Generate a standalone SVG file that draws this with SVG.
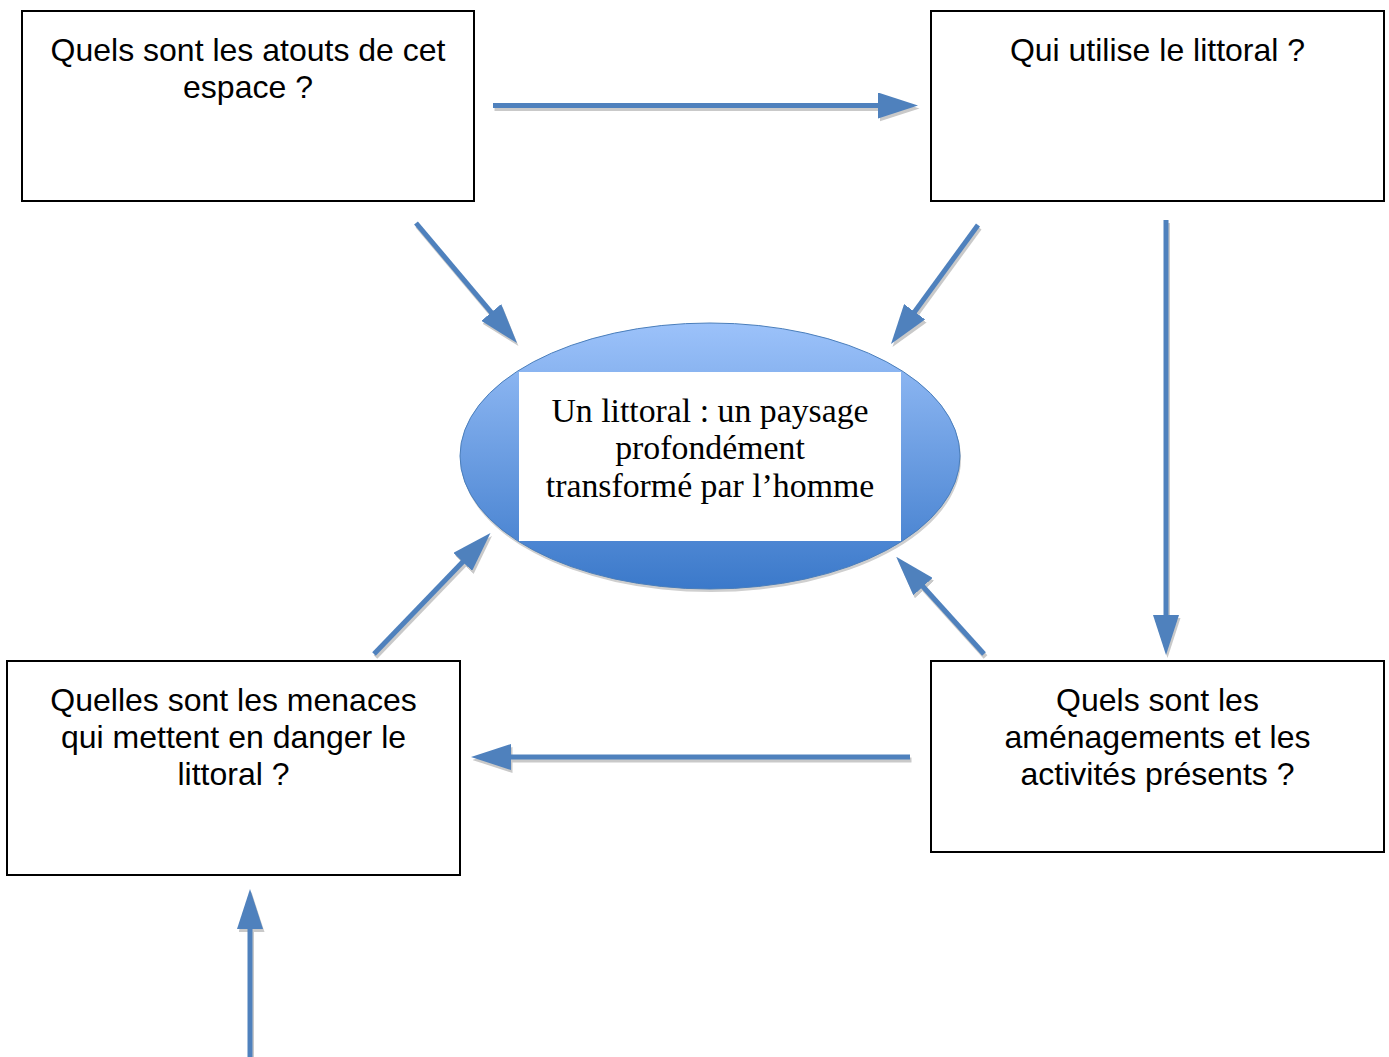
<svg xmlns="http://www.w3.org/2000/svg" width="1389" height="1057" viewBox="0 0 1389 1057">
<defs>
<style>
.box{fill:#fff;stroke:#000;stroke-width:2}
.q{font-family:"Liberation Sans",Arial,sans-serif;font-size:32px;fill:#000;text-anchor:middle}
.c{font-family:"Liberation Serif","Times New Roman",serif;font-size:33.8px;fill:#000;text-anchor:middle}
.ar{fill:none;stroke:#4F81BD;stroke-width:5;marker-end:url(#head)}
.sh{fill:none;stroke:#C9C9C9;stroke-width:5;marker-end:url(#headS)}
</style>
<marker id="head" markerUnits="userSpaceOnUse" viewBox="0 0 40 26" markerWidth="40" markerHeight="26" refX="20" refY="13" orient="auto">
<path d="M0,0 L40,13 L0,26 Z" fill="#4F81BD"/>
</marker>
<marker id="headS" markerUnits="userSpaceOnUse" viewBox="0 0 40 26" markerWidth="40" markerHeight="26" refX="20" refY="13" orient="auto">
<path d="M0,0 L40,13 L0,26 Z" fill="#C9C9C9"/>
</marker>
<linearGradient id="eg" x1="0" y1="0" x2="0" y2="1">
<stop offset="0" stop-color="#9CC2FA"/>
<stop offset="1" stop-color="#3B79CA"/>
</linearGradient>
</defs>
<rect width="1389" height="1057" fill="#fff"/>

<g id="connectors">
<g id="shadows" transform="translate(1.5,3)">
<line class="sh" x1="493" y1="105.5" x2="898" y2="105.5"/>
<line class="sh" x1="416" y1="223" x2="504.1" y2="327.7"/>
<line class="sh" x1="978" y1="225" x2="902.8" y2="327.9"/>
<line class="sh" x1="1166" y1="220" x2="1166" y2="635"/>
<line class="sh" x1="910" y1="757" x2="491" y2="757"/>
<line class="sh" x1="374" y1="654" x2="476.6" y2="547.5"/>
<line class="sh" x1="984" y1="654" x2="909.6" y2="571.7"/>
<line class="sh" x1="250" y1="1060" x2="250" y2="909"/>
</g>
<line class="ar" x1="493" y1="105.5" x2="898" y2="105.5"/>
<line class="ar" x1="416" y1="223" x2="504.1" y2="327.7"/>
<line class="ar" x1="978" y1="225" x2="902.8" y2="327.9"/>
<line class="ar" x1="1166" y1="220" x2="1166" y2="635"/>
<line class="ar" x1="910" y1="757" x2="491" y2="757"/>
<line class="ar" x1="374" y1="654" x2="476.6" y2="547.5"/>
<line class="ar" x1="984" y1="654" x2="909.6" y2="571.7"/>
<line class="ar" x1="250" y1="1060" x2="250" y2="909"/>
</g>

<g id="center">
<ellipse cx="711" cy="459" rx="250" ry="133" fill="#CFCFCF"/>
<ellipse cx="710" cy="456" rx="250" ry="133" fill="url(#eg)" stroke="#4A7EBB" stroke-width="1"/>
<rect x="519" y="372" width="382" height="169" fill="#fff"/>
<text class="c" x="710" y="422">Un littoral : un paysage</text>
<text class="c" x="710" y="459">profondément</text>
<text class="c" x="710" y="497">transformé par l’homme</text>
</g>

<g id="box-atouts">
<rect class="box" x="22" y="11" width="452" height="190"/>
<text class="q" x="248" y="61">Quels sont les atouts de cet</text>
<text class="q" x="248" y="98">espace ?</text>
</g>

<g id="box-utilise">
<rect class="box" x="931" y="11" width="453" height="190"/>
<text class="q" x="1157.5" y="61">Qui utilise le littoral ?</text>
</g>

<g id="box-menaces">
<rect class="box" x="7" y="661" width="453" height="214"/>
<text class="q" x="233.5" y="711">Quelles sont les menaces</text>
<text class="q" x="233.5" y="748">qui mettent en danger le</text>
<text class="q" x="233.5" y="785">littoral ?</text>
</g>

<g id="box-amenagements">
<rect class="box" x="931" y="661" width="453" height="191"/>
<text class="q" x="1157.5" y="711">Quels sont les</text>
<text class="q" x="1157.5" y="748">aménagements et les</text>
<text class="q" x="1157.5" y="785">activités présents ?</text>
</g>
</svg>
